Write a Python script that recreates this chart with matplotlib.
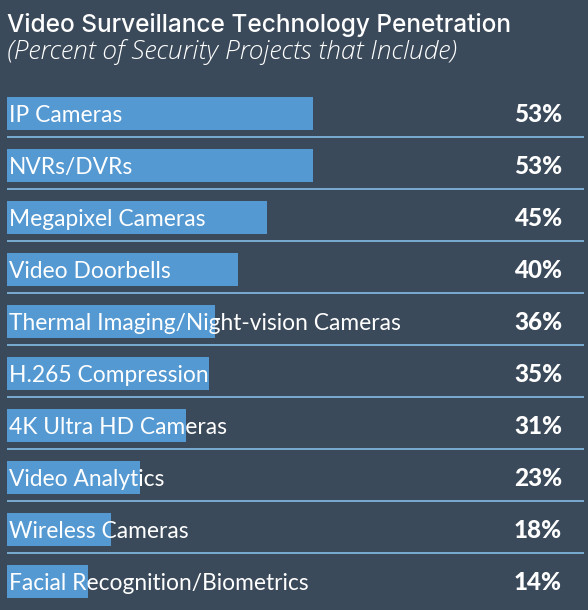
import matplotlib
matplotlib.use("Agg")
import matplotlib.pyplot as plt

BG = "#3b4a5a"
BAR = "#5599d2"
LINE = "#85bbe6"

categories = [
    "IP Cameras",
    "NVRs/DVRs",
    "Megapixel Cameras",
    "Video Doorbells",
    "Thermal Imaging/Night-vision Cameras",
    "H.265 Compression",
    "4K Ultra HD Cameras",
    "Video Analytics",
    "Wireless Cameras",
    "Facial Recognition/Biometrics",
]
values = [53, 53, 45, 40, 36, 35, 31, 23, 18, 14]
value_labels = [f"{v}%" for v in values]

W, H = 588, 610
fig = plt.figure(figsize=(W / 100, H / 100), dpi=100, facecolor=BG)

# title block
fig.text(7 / W, 1 - 32 / H, "Video Surveillance Technology Penetration",
         color="white", fontsize=17.6, family="Inter", weight="medium", va="baseline")
fig.text(7 / W, 1 - 59 / H, "(Percent of Security Projects that Include)",
         color="white", fontsize=19, family="Open Sans", style="italic", weight="light",
         va="baseline")

# bar area, 52 px per row
ax = fig.add_axes([7 / W, 0, 577 / W, 520 / H])
ax.set_facecolor(BG)
ypos = list(range(len(categories)))
ax.barh(ypos, values, height=33 / 52, color=BAR, zorder=1)
ax.set_xlim(0, 100)
ax.set_ylim(9.548, -0.452)

for i, (cat, lab) in enumerate(zip(categories, value_labels)):
    ax.text(0.3, i + 0.04, cat, color="white", fontsize=16.4, family="Lato",
            va="center", ha="left", zorder=3)
    ax.text(96.2, i + 0.02, lab, color="white", fontsize=17.5, family="Lato",
            weight="black", va="center", ha="right", zorder=3)
    if i < len(categories) - 1:
        ax.axhline(i + 0.452, color=LINE, lw=1.2, zorder=2)

for s in ax.spines.values():
    s.set_visible(False)
ax.set_xticks([])
ax.set_yticks([])

fig.savefig("out.png", dpi=100, facecolor=BG)
